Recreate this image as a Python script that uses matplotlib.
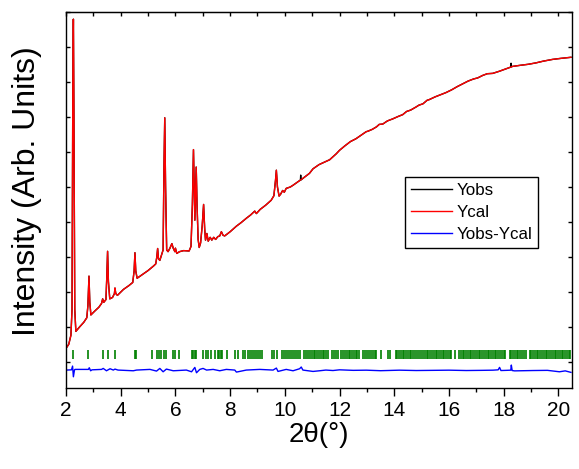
import matplotlib.pyplot as plt

plt.rcParams['font.family'] = ['Liberation Sans', 'DejaVu Sans']

# Calculated profile (2theta in degrees, intensity in counts)
two_theta = [2.00, 2.10, 2.18, 2.22, 2.25, 2.27, 2.29, 2.32, 2.36, 2.50, 2.65, 2.76, 2.80, 2.84,
             2.87, 2.91, 3.05, 3.20, 3.30, 3.34, 3.38, 3.46, 3.49, 3.52, 3.55, 3.60, 3.70, 3.77,
             3.79, 3.82, 3.88, 4.10, 4.30, 4.44, 4.49, 4.52, 4.55, 4.60, 4.80, 5.00, 5.20, 5.28,
             5.32, 5.35, 5.38, 5.43, 5.49, 5.55, 5.58, 5.61, 5.64, 5.68, 5.73, 5.80, 5.87, 5.92,
             5.98, 6.00, 6.05, 6.15, 6.30, 6.50, 6.57, 6.62, 6.66, 6.69, 6.71, 6.74, 6.76, 6.79,
             6.83, 6.87, 6.92, 6.98, 7.03, 7.07, 7.10, 7.15, 7.20, 7.27, 7.33, 7.40, 7.47, 7.55,
             7.62, 7.68, 7.74, 7.80, 8.00, 8.23, 8.40, 8.60, 8.75, 8.90, 8.96, 9.10, 9.30, 9.50,
             9.60, 9.66, 9.69, 9.73, 9.79, 9.85, 9.92, 9.98, 10.05, 10.20, 10.30, 10.50, 10.70,
             10.90, 11.03, 11.25, 11.50, 11.64, 11.88, 12.00, 12.20, 12.40, 12.60, 12.75, 12.85,
             12.97, 13.05, 13.20, 13.35, 13.45, 13.58, 13.75, 13.95, 14.15, 14.31, 14.45, 14.60,
             14.80, 14.90, 15.05, 15.20, 15.28, 15.50, 15.70, 15.89, 16.10, 16.30, 16.50, 16.70,
             16.90, 17.05, 17.23, 17.40, 17.60, 17.84, 18.05, 18.33, 18.60, 18.90, 19.18, 19.45,
             19.79, 20.10, 20.46]
y_cal = [383, 500, 760, 1500, 8000, 9800, 7000, 1500, 870, 1000, 1130, 1260, 1600, 2450,
         1700, 1340, 1450, 1560, 1670, 1800, 1700, 1780, 2400, 3160, 2300, 1800, 1840, 1950,
         2110, 1950, 1900, 2070, 2180, 2270, 2600, 3120, 2600, 2390, 2500, 2610, 2740, 2800,
         3000, 3240, 2950, 2900, 3050, 3200, 5500, 6980, 5000, 3200, 3150, 3250, 3380, 3250,
         3150, 3250, 3100, 3150, 3180, 3170, 3300, 4500, 6070, 4800, 4050, 5000, 5570, 4500,
         3500, 3270, 3400, 3900, 4500, 3800, 3480, 3670, 3450, 3560, 3480, 3560, 3500, 3580,
         3600, 3720, 3620, 3600, 3720, 3880, 3980, 4110, 4200, 4310, 4240, 4360, 4480, 4620,
         4750, 5200, 5480, 5000, 4740, 4800, 4900, 4850, 4960, 5000, 5050, 5160, 5270,
         5390, 5520, 5640, 5730, 5780, 5950, 6050, 6180, 6300, 6380, 6460, 6510,
         6580, 6600, 6650, 6720, 6790, 6800, 6890, 6950, 7020, 7070, 7160, 7200,
         7290, 7340, 7380, 7480, 7500, 7580, 7640, 7700, 7780, 7870, 7950, 8030,
         8090, 8120, 8190, 8240, 8250, 8310, 8370, 8450, 8480, 8510, 8550, 8600,
         8650, 8680, 8710]

# Observed points that stand above the calculated profile
obs_extra_x = [10.57, 10.58, 10.59, 18.26, 18.27, 18.28]
obs_extra_y = [5200, 5340, 5200, 8430, 8540, 8440]

# Difference curve (offset below the pattern)
diff_x = [2.02, 2.20, 2.24, 2.27, 2.31, 2.33, 2.82, 2.85, 2.90, 2.95, 3.30, 3.36, 3.48, 3.61,
          3.73, 3.79, 3.90, 4.46, 4.58, 5.07, 5.31, 5.43, 5.55, 5.67, 5.92, 6.40, 6.59, 6.71,
          6.77, 6.89, 7.01, 7.14, 7.38, 7.62, 7.86, 8.17, 8.23, 8.59, 9.08, 9.57, 9.69, 9.75,
          10.05, 10.30, 10.54, 10.60, 10.66, 11.03, 11.27, 11.50, 11.76, 12.00, 12.50, 12.98,
          13.50, 14.19, 14.80, 15.41, 16.00, 16.63, 17.20, 17.61, 17.80, 17.85, 17.90, 18.10,
          18.26, 18.28, 18.31, 18.40, 19.07, 19.60, 20.04, 20.25, 20.46]
diff_y = [-237, -230, -123, -429, -230, -218, -218, -171, -257, -230, -218, -190, -257, -199,
          -237, -209, -237, -257, -237, -218, -266, -190, -286, -209, -257, -237, -286, -161,
          -314, -218, -190, -237, -218, -257, -218, -237, -295, -237, -218, -237, -180, -276,
          -218, -257, -199, -150, -237, -276, -257, -237, -250, -230, -245, -240,
          -255, -240, -250, -245, -240, -250, -245, -240, -230, -160, -250, -245,
          -240, -94, -250, -260, -250, -245, -286, -260, -303]

# Bragg reflection positions
hkl_pos = [2.24, 2.82, 3.34, 3.55, 3.79, 4.52, 4.57, 5.16, 5.31, 5.41, 5.49, 5.58, 5.65, 5.90,
           6.00, 6.14, 6.61, 6.66, 6.71, 6.77, 7.00, 7.10, 7.19, 7.29, 7.44, 7.56, 7.61, 7.66,
           7.71, 7.89, 8.19, 8.29, 8.46, 8.53, 8.66, 8.73, 8.80, 8.88, 8.95, 9.02, 9.10, 9.17,
           9.53, 9.60, 9.73, 9.91, 9.97, 10.04, 10.11, 10.19, 10.26, 10.33, 10.41, 10.48, 10.55,
           10.70, 10.77, 10.84, 10.91, 10.99, 11.06, 11.12, 11.19, 11.25, 11.31, 11.38, 11.44,
           11.51, 11.56, 11.71, 11.79, 11.88, 11.96, 12.07, 12.13, 12.20, 12.26, 12.33, 12.39,
           12.46, 12.52, 12.59, 12.65, 12.71, 12.84, 12.92, 13.02, 13.08, 13.15, 13.21, 13.28,
           13.34, 13.53, 13.77, 13.86, 14.05, 14.11, 14.18, 14.24, 14.31, 14.37, 14.44, 14.50,
           14.57, 14.63, 14.70, 14.76, 14.83, 14.90, 14.99, 15.05, 15.12, 15.18, 15.25, 15.31,
           15.38, 15.44, 15.51, 15.57, 15.64, 15.70, 15.77, 15.83, 15.90, 15.96, 16.03, 16.09,
           16.22, 16.37, 16.43, 16.50, 16.56, 16.63, 16.69, 16.76, 16.82, 16.89, 16.95, 17.02,
           17.08, 17.15, 17.21, 17.28, 17.34, 17.41, 17.47, 17.54, 17.60, 17.67, 17.73, 17.80,
           17.86, 17.93, 18.00, 18.06, 18.22, 18.28, 18.35, 18.41, 18.48, 18.54, 18.61, 18.67,
           18.74, 18.80, 18.95, 19.01, 19.08, 19.14, 19.21, 19.27, 19.34, 19.40, 19.47, 19.53,
           19.60, 19.66, 19.73, 19.79, 19.86, 19.92, 19.99, 20.05, 20.12, 20.18, 20.25, 20.31,
           20.38, 20.44]

# merge the extra observed points into the observed curve
obs = sorted(zip(two_theta + obs_extra_x, y_cal + obs_extra_y))
x_obs = [p[0] for p in obs]
y_obs = [p[1] for p in obs]

fig = plt.figure(figsize=(5.79, 4.69), dpi=100)
ax = fig.add_axes([0.114, 0.1727, 0.874, 0.8013])

ax.plot(x_obs, y_obs, color='black', lw=1, label='Yobs')
ax.plot(two_theta, y_cal, color='red', lw=1, label='Ycal')
ax.plot(diff_x, diff_y, color='blue', lw=1, label='Yobs-Ycal')
ax.vlines(hkl_pos, 90, 340, color='green', lw=1.2)

ax.set_xlim(2, 20.5)
ax.set_ylim(-750, 10000)
ax.set_xticks(range(2, 21, 2))
ax.set_xticks(range(3, 21, 2), minor=True)
ax.set_yticks(range(0, 10001, 1000))
ax.set_yticklabels([])

ax.tick_params(axis='x', which='major', direction='out', length=6, width=1, labelsize=15, pad=3)
ax.tick_params(axis='x', which='minor', direction='out', length=3, width=1)
ax.tick_params(axis='y', direction='in', length=3, width=1, left=True, right=True)

# top axis: small inward ticks at every degree
top = ax.secondary_xaxis('top')
top.set_xticks(range(2, 21))
top.tick_params(direction='in', length=3, width=1, labeltop=False)

for s in ax.spines.values():
    s.set_linewidth(1)

ax.set_xlabel('2θ(°)', fontsize=20, labelpad=2)
ax.set_ylabel('Intensity (Arb. Units)', fontsize=23)
ax.yaxis.set_label_coords(-0.047, 0.523)

leg = ax.legend(loc='upper left', bbox_to_anchor=(0.670, 0.562), fontsize=12.2,
                frameon=True, fancybox=False, edgecolor='black', framealpha=1,
                handlelength=2.4, borderpad=0.35, labelspacing=0.42, handletextpad=0.3,
                borderaxespad=0)
leg.get_frame().set_linewidth(1)

plt.savefig('out.png', dpi=100)
